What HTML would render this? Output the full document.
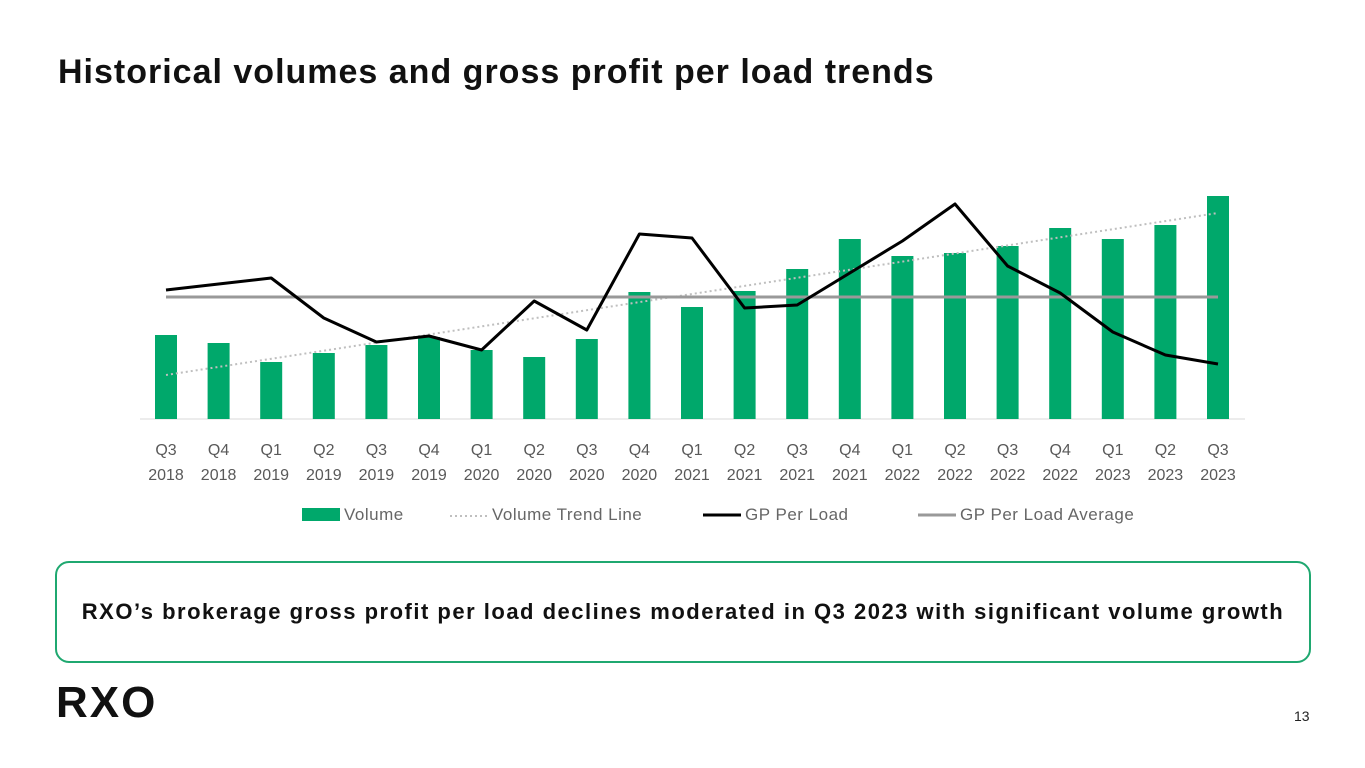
<!DOCTYPE html>
<html><head><meta charset="utf-8">
<style>
body{margin:0;width:1365px;height:768px;background:#fff;font-family:"Liberation Sans",sans-serif;overflow:hidden;position:relative}
#title{position:absolute;left:58px;top:53px;font-size:34px;font-weight:bold;color:#111;letter-spacing:1px}
#box{position:absolute;left:55px;top:561px;width:1252px;height:98px;border:2px solid #1fa870;border-radius:14px;display:flex;align-items:center;justify-content:center;font-size:22px;font-weight:bold;color:#111;letter-spacing:1.5px}
#logo{position:absolute;left:56px;top:678px;font-size:44px;font-weight:900;color:#111;letter-spacing:2px}
#pg{position:absolute;left:1294px;top:708px;font-size:14px;color:#222}
svg{position:absolute;left:0;top:0}
</style></head><body>
<div id="title">Historical volumes and gross profit per load trends</div>
<svg id="chart" width="1365" height="540"></svg>
<div id="box">RXO’s brokerage gross profit per load declines moderated in Q3 2023 with significant volume growth</div>
<div id="logo">RXO</div>
<div id="pg">13</div>
<script>
const quarters=["Q3","Q4","Q1","Q2","Q3","Q4","Q1","Q2","Q3","Q4","Q1","Q2","Q3","Q4","Q1","Q2","Q3","Q4","Q1","Q2","Q3"];
const years=["2018","2018","2019","2019","2019","2019","2020","2020","2020","2020","2021","2021","2021","2021","2022","2022","2022","2022","2023","2023","2023"];
const volume=[84,76,57,66,74,82,69,62,80,127,112,128,150,180,163,166,173,191,180,194,223];
const gpPerLoad=[129,135,141,101,77,83,69,118,89,185,181,111,114,146,178,215,153,126,87,64,55];
const gpAverage=122;
const trendStart=44, trendEnd=206;
const NS="http://www.w3.org/2000/svg";
const svg=document.getElementById('chart');
const x=i=>166+i*(1218-166)/(quarters.length-1);
const yV=v=>419-v;
const yG=v=>419-v;
function mk(t,a,parent){const e=document.createElementNS(NS,t);for(const k in a)e.setAttribute(k,a[k]);(parent||svg).appendChild(e);return e;}
let ax=mk('line',{x1:140,x2:1245,y1:419,y2:419,stroke:'#d9d9d9','stroke-width':1});


volume.forEach((v,i)=>{
  const r=mk('rect',{x:x(i)-11,y:yV(v),width:22,height:v,fill:'#00a86b'});
  
  
  const t=mk('text',{x:x(i),y:455,'text-anchor':'middle','font-size':16,fill:'#595959'});
  t.textContent=quarters[i];
  
  
  const t2=mk('text',{x:x(i),y:480,'text-anchor':'middle','font-size':16,fill:'#595959'});
  t2.textContent=years[i];
  
  
});
let tr=mk('line',{x1:x(0),y1:yV(trendStart),x2:x(quarters.length-1),y2:yV(trendEnd),stroke:'#bfbfbf','stroke-width':2,'stroke-dasharray':'2 3'});


let av=mk('line',{x1:x(0),y1:yG(gpAverage),x2:x(quarters.length-1),y2:yG(gpAverage),stroke:'#999','stroke-width':3});


let gp=mk('polyline',{points:gpPerLoad.map((v,i)=>x(i)+','+yG(v)).join(' '),fill:'none',stroke:'#000','stroke-width':3,'stroke-linejoin':'round'});


const lg=[[302,'rect','Volume',344],[450,'dot','Volume Trend Line',492],[703,'black','GP Per Load',745],[918,'gray','GP Per Load Average',960]];
lg.forEach(l=>{
  let s;
  if(l[1]==='rect')s=mk('rect',{x:l[0],y:508,width:38,height:13,fill:'#00a86b'});
  else if(l[1]==='dot')s=mk('line',{x1:l[0],x2:l[0]+38,y1:516,y2:516,stroke:'#bfbfbf','stroke-width':2,'stroke-dasharray':'2 3'});
  else s=mk('line',{x1:l[0],x2:l[0]+38,y1:515,y2:515,stroke:l[1]==='black'?'#000':'#999','stroke-width':3});
  
  
  const t=mk('text',{x:l[3],y:520,'font-size':17,fill:'#666','letter-spacing':'0.5'});
  t.textContent=l[2];
  
  
});
</script>
</body></html>
